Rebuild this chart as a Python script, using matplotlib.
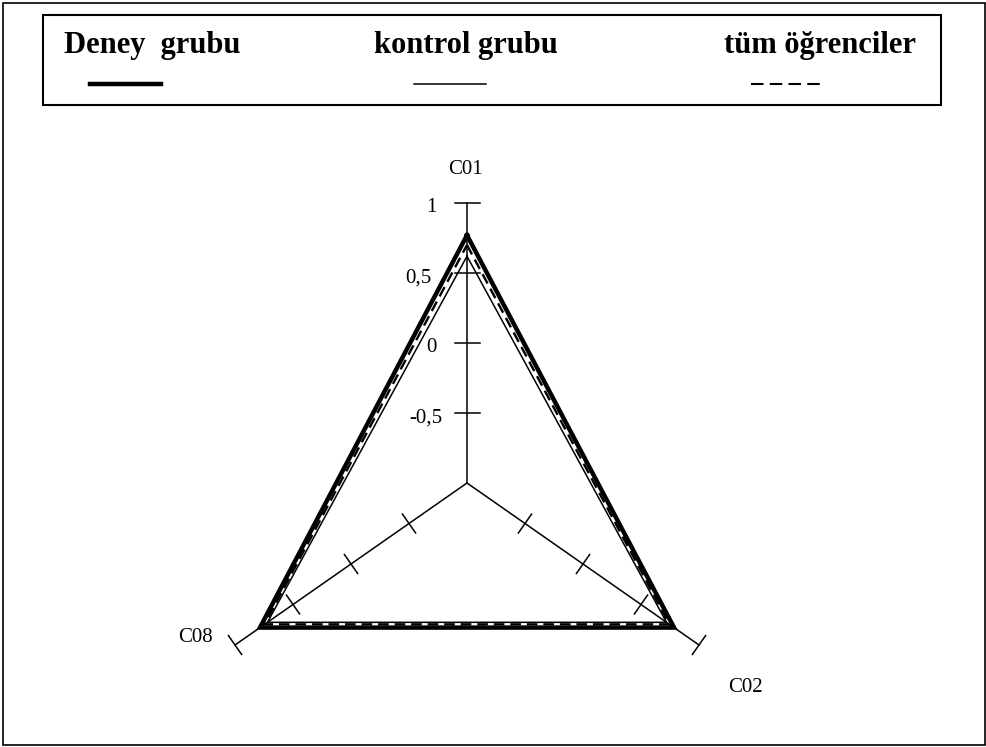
import numpy as np
import matplotlib
matplotlib.use("Agg")
import matplotlib.pyplot as plt
from matplotlib.patches import Rectangle

plt.rcParams['font.family'] = ['Liberation Serif', 'DejaVu Serif']

# --- data ---
axis_names = ["C01", "C02", "C08"]
series_names = ["Deney  grubu", "kontrol grubu", "tüm öğrenciler"]
deney = [0.77, 0.785, 0.785]
kontrol = [0.62, 0.72, 0.72]
tum = [0.70, 0.745, 0.745]
tick_values = [-0.5, 0, 0.5, 1]
tick_labels = ["-0,5", "0", "0,5", "1"]
vmin, vmax = -1.0, 1.0

# --- layout (pixel space, y down) ---
W, H = 986, 747
center = np.array([467.0, 483.0])
# displacement per unit of value along each spoke (the source chart is stretched)
spoke = {"C01": np.array([0.0, -140.0]),
         "C02": np.array([116.0, 81.0]),
         "C08": np.array([-116.0, 81.0])}


def pos(name, v):
    return center + (v - vmin) * spoke[name]


fig = plt.figure(figsize=(W / 100, H / 100), dpi=100)
ax = fig.add_axes([0, 0, 1, 1])
ax.set_xlim(0, W)
ax.set_ylim(H, 0)
ax.axis('off')

# outer frame
ax.add_patch(Rectangle((2.5, 2.5), W - 4, H - 5, fill=False, lw=1.2, ec='black'))

# spokes + tick marks
for name in axis_names:
    p0 = pos(name, vmin)
    p1 = pos(name, vmax)
    ax.plot([p0[0], p1[0]], [p0[1], p1[1]], color='black', lw=1.1)
    d = spoke[name] / np.linalg.norm(spoke[name])
    perp = np.array([-d[1], d[0]])
    half = 12.5 if name == "C01" else 11.5
    for tv in tick_values:
        p = pos(name, tv)
        a, b = p - perp * half, p + perp * half
        ax.plot([a[0], b[0]], [a[1], b[1]], color='black', lw=1.1)

# tick labels on C01
label_x = [442, 437, 432, 437]
for tv, tl, lx in zip(tick_values, tick_labels, label_x):
    p = pos("C01", tv)
    ax.text(lx, p[1] + 5, tl, ha='right', va='center', fontsize=15)

# category labels
ax.text(465, 170, "C01", ha='center', va='center', fontsize=15)
ax.text(745, 688, "C02", ha='center', va='center', fontsize=15)
ax.text(213, 638, "C08", ha='right', va='center', fontsize=15)

# series polygons
styles = [dict(lw=3.2, ls='-', zorder=4),
          dict(lw=1.1, ls='-', zorder=3),
          dict(lw=1.7, ls=(0, (4.5, 2.5)), zorder=5)]
for vals, st in zip([deney, kontrol, tum], styles):
    pts = np.array([pos(n, v) for n, v in zip(axis_names, vals)])
    pts = np.vstack([pts, pts[:1]])
    ax.plot(pts[:, 0], pts[:, 1], color='black', solid_joinstyle='miter',
            dash_joinstyle='miter', **st)

# legend box
ax.add_patch(Rectangle((43, 15), 898, 90, fill=False, lw=1.5, ec='black'))
ax.text(64, 53, series_names[0], ha='left', va='baseline', fontsize=22, fontweight='bold')
ax.text(466, 53, series_names[1], ha='center', va='baseline', fontsize=22, fontweight='bold')
ax.text(916, 53, series_names[2], ha='right', va='baseline', fontsize=22, fontweight='bold')
ax.plot([90, 161], [84, 84], color='black', lw=3.2)
ax.plot([414, 486], [84, 84], color='black', lw=1.1)
ax.plot([751, 823], [84, 84], color='black', lw=1.5, ls=(0, (6, 3)))

fig.savefig("out.png", dpi=100)
